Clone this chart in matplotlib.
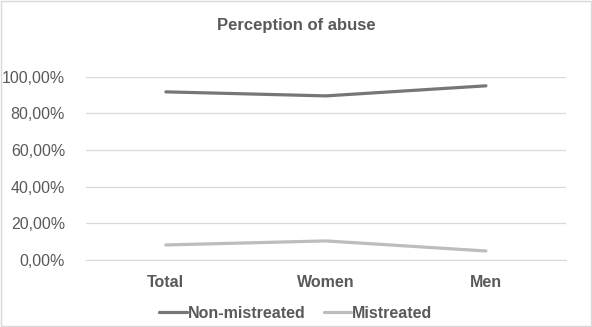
import matplotlib.pyplot as plt
from matplotlib.ticker import FuncFormatter

plt.rcParams['font.family'] = ['Liberation Sans', 'DejaVu Sans']

categories = ['Total', 'Women', 'Men']
non_mistreated = [91.8, 89.6, 95.1]
mistreated = [8.2, 10.4, 4.9]
yticks = [0, 20, 40, 60, 80, 100]

txt = '#595959'
fig = plt.figure(figsize=(5.92, 3.27), dpi=100)
ax = fig.add_axes([0.145, 0.205, 0.811, 0.56])

x = range(len(categories))
ax.plot(x, non_mistreated, color='#767676', lw=2.3, label='Non-mistreated', solid_capstyle='round')
ax.plot(x, mistreated, color='#bdbdbd', lw=2.3, label='Mistreated', solid_capstyle='round')

ax.set_xlim(-0.5, 2.5)
ax.set_ylim(0, 100)
ax.set_yticks(yticks)
ax.yaxis.set_major_formatter(FuncFormatter(lambda v, p: f'{v:.2f}%'.replace('.', ',')))
ax.set_xticks(list(x))
ax.set_xticklabels(categories, fontweight='bold')
ax.tick_params(axis='both', length=0, labelsize=11.5, colors=txt)
ax.tick_params(axis='x', pad=11)
ax.tick_params(axis='y', pad=15)
ax.grid(axis='y', color='#d9d9d9', lw=0.9)
ax.set_axisbelow(True)
for s in ax.spines.values():
    s.set_visible(False)
ax.spines['bottom'].set_visible(True)
ax.spines['bottom'].set_color('#d9d9d9')

fig.text(0.5, 0.922, 'Perception of abuse', ha='center', va='center', fontsize=12, fontweight='bold', color=txt)
leg = fig.legend(loc='center', bbox_to_anchor=(0.5, 0.042), ncol=2, frameon=False,
                 prop={'weight': 'bold', 'size': 11.5}, handlelength=1.7, handletextpad=0.1, columnspacing=1.1)
for t in leg.get_texts():
    t.set_color(txt)

fig.patches.append(plt.Rectangle((0.002, 0.003), 0.996, 0.994, transform=fig.transFigure,
                                 fill=False, edgecolor='#d9d9d9', lw=1))
fig.savefig('out.png', dpi=100)
